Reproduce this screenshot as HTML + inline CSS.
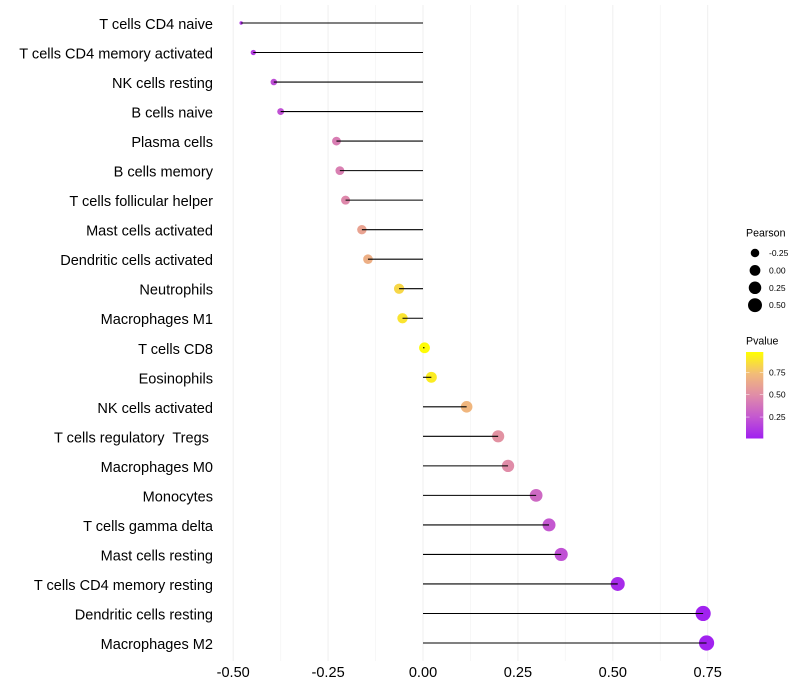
<!DOCTYPE html>
<html>
<head>
<meta charset="utf-8">
<title>Immune cell correlation lollipop chart</title>
<style>
html,body{margin:0;padding:0;background:#fff;width:800px;height:700px;overflow:hidden}
svg{display:block;font-family:"Liberation Sans",sans-serif}
text{white-space:pre}
</style>
</head>
<body>
<svg id="chart" width="800" height="700" viewBox="0 0 800 700" xmlns="http://www.w3.org/2000/svg">
  <defs>
    <linearGradient id="pvalue-gradient" x1="0" y1="1" x2="0" y2="0">
      <stop offset="0" stop-color="#a020f0"/>
      <stop offset="0.25" stop-color="#c458d0"/>
      <stop offset="0.5" stop-color="#e08ca8"/>
      <stop offset="0.75" stop-color="#f2bc78"/>
      <stop offset="1" stop-color="#ffff00"/>
    </linearGradient>
  </defs>
  <g id="grid"></g>
  <g id="points"></g>
  <g id="segments"></g>
  <g id="y-axis"></g>
  <g id="x-axis"></g>

  <g>
    <text x="746" y="236.5" font-size="10.6" fill="#000">Pearson</text>
    <g id="size-legend"></g>
  </g>
  <g>
    <text x="746" y="344.5" font-size="10.6" fill="#000">Pvalue</text>
    <rect x="746" y="352" width="17.3" height="86.5" fill="url(#pvalue-gradient)"/>
    <g id="color-legend"></g>
  </g>
</svg>
<script>
var categories = ["T cells CD4 naive","T cells CD4 memory activated","NK cells resting","B cells naive","Plasma cells","B cells memory","T cells follicular helper","Mast cells activated","Dendritic cells activated","Neutrophils","Macrophages M1","T cells CD8","Eosinophils","NK cells activated","T cells regulatory  Tregs ","Macrophages M0","Monocytes","T cells gamma delta","Mast cells resting","T cells CD4 memory resting","Dendritic cells resting","Macrophages M2"];
var pearson = [-0.479,-0.447,-0.393,-0.375,-0.228,-0.219,-0.204,-0.161,-0.145,-0.063,-0.054,0.004,0.022,0.115,0.198,0.224,0.298,0.332,0.364,0.513,0.738,0.747];
var pvalue = [0.1,0.13,0.2,0.22,0.43,0.44,0.48,0.62,0.68,0.85,0.9,0.99,0.93,0.72,0.53,0.5,0.33,0.25,0.22,0.05,0.01,0.01];
var xTicks = [-0.5,-0.25,0,0.25,0.5,0.75];
var xTickLabels = ["-0.50","-0.25","0.00","0.25","0.50","0.75"];
var xMinorTicks = [-0.375,-0.125,0.125,0.375,0.625];
var sizeLegendValues = [-0.25,0,0.25,0.5];
var sizeLegendLabels = ["-0.25","0.00","0.25","0.50"];
var colorLegendValues = [0.25,0.5,0.75];
var colorLegendLabels = ["0.25","0.50","0.75"];

var NS = "http://www.w3.org/2000/svg";
function xScale(v){ return 423 + v * 379.6; }
function yScale(i){ return 23 + i * 29.524; }
function colorLegendY(p){ return 438.5 - (p - 0.01) * 89.4; }
function sizeLegendY(i){ return 253 + i * 17.4; }
function radius(v){
  var lo = Math.min.apply(null, pearson), hi = Math.max.apply(null, pearson);
  var t = Math.max(0, (v - lo) / (hi - lo));
  return 1.7 + 5.9 * Math.sqrt(t);
}
function mix(a,b,t){ return Math.round(a + (b - a) * t); }
function color(p){
  var stops = [[0,160,32,240],[0.25,196,88,208],[0.5,224,140,168],[0.75,242,188,120],[1,255,255,0]];
  for (var i = 1; i < stops.length; i++) {
    if (p <= stops[i][0]) {
      var a = stops[i-1], b = stops[i], t = (p - a[0]) / (b[0] - a[0]);
      return "rgb(" + mix(a[1],b[1],t) + "," + mix(a[2],b[2],t) + "," + mix(a[3],b[3],t) + ")";
    }
  }
  return "rgb(255,255,0)";
}
function make(tag, parentId, attrs){
  var el = document.createElementNS(NS, tag);
  for (var k in attrs) el.setAttribute(k, attrs[k]);
  document.getElementById(parentId).appendChild(el);
  return el;
}

xMinorTicks.forEach(function(v){
  var el = make("line", "grid", {x1:xScale(v), x2:xScale(v), y1:5, y2:661, stroke:"#f5f5f5", "stroke-width":0.8});
  
  
});
xTicks.forEach(function(v, i){
  var line = make("line", "grid", {x1:xScale(v), x2:xScale(v), y1:5, y2:661, stroke:"#efefef", "stroke-width":1});
  
  
  var label = make("text", "x-axis", {x:xScale(v), y:677, "text-anchor":"middle", "font-size":14.55, fill:"#000"});
  
  
  label.textContent = xTickLabels[i];
});
categories.forEach(function(name, i){
  var y = yScale(i);
  var pt = make("circle", "points", {cx:xScale(pearson[i]), cy:y, r:radius(pearson[i]), fill:color(pvalue[i])});
  
  
  var seg = make("line", "segments", {x1:xScale(0), x2:xScale(pearson[i]), y1:y, y2:y, stroke:"#000", "stroke-width":1.07});
  
  
  var label = make("text", "y-axis", {x:213, y:y + 6, "text-anchor":"end", "font-size":14.55, fill:"#000"});
  
  
  label.textContent = name;
});
sizeLegendValues.forEach(function(v, i){
  var y = sizeLegendY(i);
  var dot = make("circle", "size-legend", {cx:755, cy:y, r:radius(v), fill:"#000"});
  
  
  var label = make("text", "size-legend", {x:769, y:y + 3, "font-size":8.5, fill:"#000"});
  
  
  label.textContent = sizeLegendLabels[i];
});
colorLegendValues.forEach(function(p, i){
  var y = colorLegendY(p);
  var t1 = make("line", "color-legend", {x1:746, x2:749.5, y1:y, y2:y, stroke:"#fff", "stroke-width":0.5});
  
  
  var t2 = make("line", "color-legend", {x1:759.8, x2:763.3, y1:y, y2:y, stroke:"#fff", "stroke-width":0.5});
  
  
  var label = make("text", "color-legend", {x:769, y:y + 3, "font-size":8.5, fill:"#000"});
  
  
  label.textContent = colorLegendLabels[i];
});
</script>
</body>
</html>
